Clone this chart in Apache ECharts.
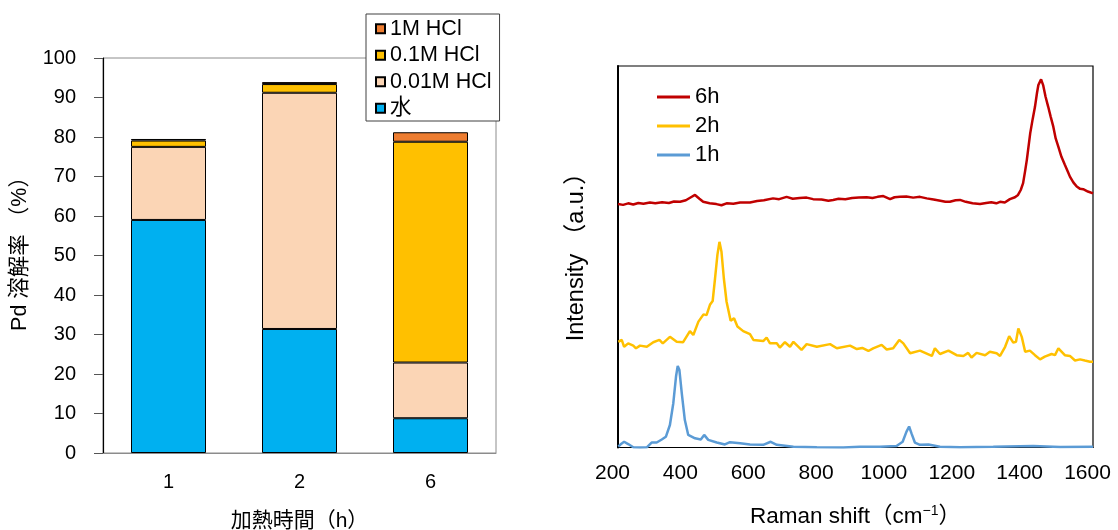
<!DOCTYPE html>
<html>
<head>
<meta charset="utf-8">
<script src="https://cdn.jsdelivr.net/npm/echarts@6/dist/echarts.min.js"></script>
<style>
html,body{margin:0;padding:0;background:#fff;}
#c{width:1118px;height:530px;}
</style>
</head>
<body>
<div id="c"></div>
<script>
// ---- Left chart data (Pd dissolution, %) ----
const categories = ['1', '2', '6'];
const water   = [59.0, 31.4, 8.8];
const hcl001  = [18.5, 59.8, 14.1];
const hcl01   = [1.6, 2.2, 55.9];
const hcl1    = [0.4, 0.5, 2.4];
const barLegend = ['1M HCl', '0.1M HCl', '0.01M HCl', '水'];

// ---- Right chart data (Raman spectra, arbitrary units) ----
const spec6h = [[200,63.8],[215,63.6],[230,64.0],[245,63.7],[260,64.1],[275,63.9],[294,64.2],[310,64.0],[330,64.3],[350,64.1],[365,64.5],[383,64.4],[400,64.8],[415,65.6],[427,66.2],[440,65.2],[451,64.4],[470,64.0],[490,63.8],[505,63.5],[520,64.0],[540,63.9],[560,64.2],[589,64.2],[610,64.6],[630,64.8],[657,65.3],[675,65.1],[697,65.7],[715,65.2],[735,65.4],[756,65.5],[775,65.1],[800,65.0],[820,64.7],[834,64.9],[850,65.2],[870,65.1],[890,65.4],[910,65.5],[933,65.6],[950,65.4],[965,65.7],[982,65.9],[1002,65.1],[1015,65.6],[1031,65.7],[1050,65.8],[1070,65.5],[1090,65.7],[1110,65.3],[1130,65.0],[1150,64.7],[1165,64.4],[1178,64.4],[1195,64.8],[1208,64.9],[1225,64.4],[1245,64.0],[1267,63.8],[1285,64.1],[1300,64.3],[1315,64.0],[1326,64.4],[1340,64.2],[1355,65.1],[1370,65.6],[1379,66.2],[1387,67.5],[1394,69.3],[1400,72.5],[1405,75.4],[1415,82.4],[1422,86.0],[1429,89.3],[1435,93.0],[1439,95.0],[1447,96.5],[1453,95.0],[1460,92.0],[1468,89.3],[1475,86.8],[1483,84.1],[1490,81.0],[1498,78.8],[1507,76.2],[1517,74.1],[1525,72.5],[1532,71.0],[1542,69.5],[1552,68.4],[1562,67.8],[1571,67.7],[1585,67.1],[1600,66.6]];

const spec2h = [[201,27.7],[211,28.2],[218,26.4],[230,27.3],[245,26.7],[253,26.0],[265,26.7],[285,26.4],[304,27.6],[322,28.2],[332,27.3],[353,29.0],[373,27.7],[392,27.6],[412,30.5],[422,29.5],[437,33.0],[452,34.9],[461,34.7],[471,37.4],[479,38.4],[486,44.3],[493,50.5],[499,53.9],[505,51.3],[512,44.3],[520,38.2],[532,33.2],[542,33.9],[552,31.7],[569,30.5],[589,29.7],[599,28.2],[628,27.9],[638,28.8],[648,27.3],[668,27.3],[677,26.2],[692,27.6],[707,26.4],[717,27.7],[741,25.6],[756,27.1],[786,26.4],[825,27.1],[845,26.0],[884,26.7],[904,25.8],[920,26.1],[938,25.3],[952,26.0],[977,26.9],[992,25.7],[1011,26.0],[1029,28.2],[1041,27.3],[1061,24.7],[1090,25.4],[1125,24.0],[1134,26.0],[1149,24.5],[1174,25.4],[1198,24.2],[1218,24.0],[1232,24.8],[1242,23.6],[1257,24.8],[1282,24.2],[1296,25.1],[1316,24.7],[1326,24.0],[1341,26.4],[1353,29.2],[1365,27.5],[1373,27.7],[1380,31.2],[1390,29.0],[1400,25.1],[1414,25.4],[1429,24.2],[1444,23.1],[1458,23.8],[1478,24.5],[1488,24.2],[1498,26.0],[1517,24.2],[1532,24.0],[1547,22.8],[1562,23.1],[1576,22.8],[1591,22.5],[1600,22.5]];

const spec1h = [[201,0.2],[210,1.0],[218,1.5],[230,0.9],[245,0.05],[265,0.0],[285,0.05],[299,1.3],[314,1.3],[329,2.1],[341,2.8],[353,5.9],[363,11.6],[371,18.6],[376,21.4],[381,20.3],[388,14.2],[397,7.2],[407,3.3],[427,2.4],[444,2.1],[454,3.3],[466,2.0],[491,1.3],[515,0.8],[530,1.4],[560,1.1],[589,0.8],[628,0.7],[650,1.5],[668,0.7],[717,0.2],[786,0.05],[864,0.0],[913,0.2],[972,0.2],[1021,0.4],[1039,1.5],[1050,4.1],[1058,5.5],[1065,3.7],[1075,1.3],[1090,0.7],[1115,0.8],[1149,0.2],[1208,0.05],[1306,0.2],[1424,0.4],[1503,0.1],[1600,0.2]];

const lineLegend = ['6h', '2h', '1h'];

const FONT = "'Liberation Sans','Noto Sans CJK JP',sans-serif";

const chart = echarts.init(document.getElementById('c'), null, {renderer: 'canvas'});

const barBase = {
  type: 'bar', stack: 'pd', xAxisIndex: 0, yAxisIndex: 0, barWidth: 75,
  itemStyle: {borderColor: '#000', borderWidth: 1}
};
const lineBase = {
  type: 'line', xAxisIndex: 1, yAxisIndex: 1, symbol: 'none', showSymbol: false,
  animation: false
};

chart.setOption({
  animation: false,
  backgroundColor: '#fff',
  textStyle: {fontFamily: FONT},
  grid: [
    {left: 103, top: 58, width: 393, height: 395, show: true, borderColor: '#8c8c8c', borderWidth: 1,
     backgroundColor: 'transparent', containLabel: false, outerBoundsMode: 'none'},
    {left: 618, top: 66, width: 475, height: 381.5, show: true, borderColor: '#000', borderWidth: 1.2,
     backgroundColor: 'transparent', containLabel: false, outerBoundsMode: 'none'}
  ],
  legend: [
    {
      data: barLegend, orient: 'vertical', left: 366, top: 14,
      icon: 'rect', itemWidth: 9, itemHeight: 9, itemGap: 5,
      padding: [4, 8, 2, 9],
      backgroundColor: '#fff', borderColor: '#404040', borderWidth: 1,
      textStyle: {fontSize: 21.5, lineHeight: 21, color: '#000', fontFamily: FONT},
      selectedMode: false
    },
    {
      data: lineLegend, orient: 'vertical', left: 657, top: 86,
      icon: 'rect', itemWidth: 33, itemHeight: 3, itemGap: 7,
      padding: 0,
      textStyle: {fontSize: 22, lineHeight: 22, color: '#000', fontFamily: FONT},
      selectedMode: false
    }
  ],
  xAxis: [
    {
      type: 'category', gridIndex: 0, data: categories,
      axisLine: {lineStyle: {color: '#8c8c8c', width: 1}},
      axisTick: {show: false},
      axisLabel: {color: '#000', fontSize: 20, margin: 19, fontFamily: FONT},
      name: '加熱時間（h）', nameLocation: 'middle', nameGap: 58,
      nameTextStyle: {color: '#000', fontSize: 21, fontFamily: FONT}
    },
    {
      type: 'value', gridIndex: 1, min: 200, max: 1600, interval: 200,
      axisLine: {show: true, lineStyle: {color: '#000', width: 1.2}},
      axisTick: {show: false},
      splitLine: {show: false},
      axisLabel: {color: '#000', fontSize: 21, margin: 15, fontFamily: FONT, padding: [0, 11, 0, 0],
        formatter: function (v) { return String(v); }},
      name: '{a|Raman shift（cm}{s|−1}{a|）}', nameLocation: 'middle', nameGap: 57,
      nameTextStyle: {
        color: '#000', fontSize: 22.5, fontFamily: FONT,
        rich: {
          a: {fontSize: 22.5, color: '#000', fontFamily: FONT},
          s: {fontSize: 14, color: '#000', fontFamily: FONT, verticalAlign: 'top', padding: [0, 0, 10, 0]}
        }
      }
    }
  ],
  yAxis: [
    {
      type: 'value', gridIndex: 0, min: 0, max: 100, interval: 10,
      axisLine: {show: true, lineStyle: {color: '#000', width: 1.2}},
      axisTick: {show: true, length: 9, lineStyle: {color: '#555'}},
      splitLine: {show: false},
      axisLabel: {color: '#000', fontSize: 20, margin: 27, fontFamily: FONT},
      name: 'Pd 溶解率 （%）', nameLocation: 'middle', nameGap: 72, nameRotate: 90,
      nameTextStyle: {color: '#000', fontSize: 21.5, fontFamily: FONT, padding: [0, 0, 0, 14]}
    },
    {
      type: 'value', gridIndex: 1, min: 0, max: 100,
      axisLine: {show: true, lineStyle: {color: '#000', width: 2}},
      axisTick: {show: false},
      axisLabel: {show: false},
      splitLine: {show: false},
      name: 'Intensity （a.u.）', nameLocation: 'middle', nameGap: 30, nameRotate: 90,
      nameTextStyle: {color: '#000', fontSize: 23.5, fontFamily: FONT, padding: [0, 0, 0, 11]}
    }
  ],
  series: [
    Object.assign({}, barBase, {name: '水', data: water, itemStyle: {color: '#00B0F0', borderColor: '#000', borderWidth: 1}}),
    Object.assign({}, barBase, {name: '0.01M HCl', data: hcl001, itemStyle: {color: '#FBD5B5', borderColor: '#000', borderWidth: 1}}),
    Object.assign({}, barBase, {name: '0.1M HCl', data: hcl01, itemStyle: {color: '#FFC000', borderColor: '#000', borderWidth: 1}}),
    Object.assign({}, barBase, {name: '1M HCl', data: hcl1, itemStyle: {color: '#ED7D31', borderColor: '#000', borderWidth: 1}}),
    Object.assign({}, lineBase, {name: '6h', data: spec6h, itemStyle: {color: '#C00000'}, lineStyle: {color: '#C00000', width: 2.5}}),
    Object.assign({}, lineBase, {name: '2h', data: spec2h, itemStyle: {color: '#FFC000'}, lineStyle: {color: '#FFC000', width: 2.5}}),
    Object.assign({}, lineBase, {name: '1h', data: spec1h, itemStyle: {color: '#5B9BD5'}, lineStyle: {color: '#5B9BD5', width: 2.5}})
  ]
});
</script>
</body>
</html>
